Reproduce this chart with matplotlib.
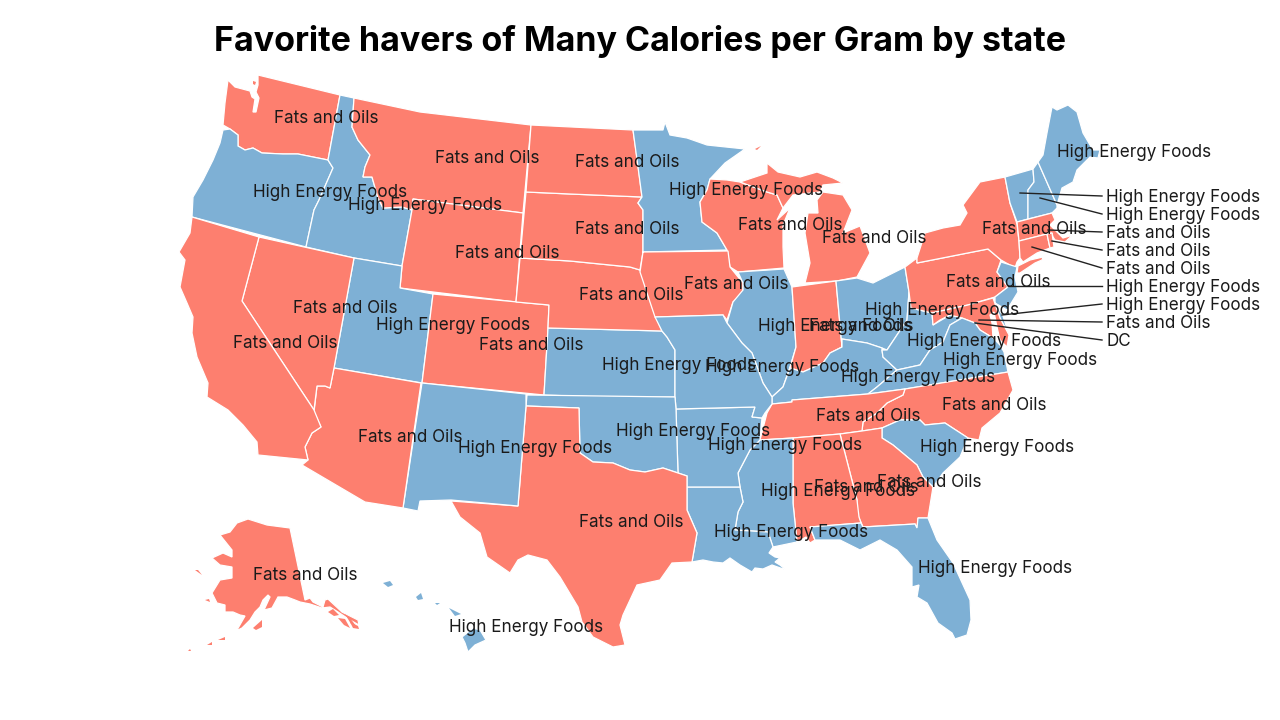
import matplotlib
matplotlib.use('Agg')
import matplotlib.pyplot as plt
from matplotlib.patches import Polygon

TITLE = 'Favorite havers of Many Calories per Gram by state'
FATS = 'Fats and Oils'
HIGH = 'High Energy Foods'
COLORS = {FATS: '#fd7f6f', HIGH: '#7eb0d5'}

# which category won in each state
fats_states = ['WA', 'MT', 'ND', 'SD', 'WY', 'NE', 'IA', 'WI', 'MI', 'NV', 'CO', 'CA', 'IN', 'TN',
               'NC', 'GA', 'AL', 'AZ', 'TX', 'AK', 'NY', 'PA', 'MA', 'RI', 'CT', 'MD']
high_states = ['OR', 'ID', 'MN', 'UT', 'KS', 'MO', 'IL', 'OH', 'WV', 'VA', 'KY', 'SC', 'MS', 'LA',
               'FL', 'OK', 'AR', 'NM', 'HI', 'ME', 'VT', 'NH', 'NJ', 'DE', 'DC']

# state outlines in pixels
outlines = {
    'WA': [[(258, 75), (340, 95), (328, 160), (298, 154), (283, 154), (262, 153), (253, 148), (245, 150), (238, 146),
            (238, 135), (230, 129), (223, 125), (225, 103), (228, 80), (235, 87), (250, 91), (252, 97), (255, 99),
            (253, 112), (256, 112), (259, 98), (256, 92), (258, 85)]],
    'OR': [[(223, 130), (230, 129), (238, 135), (238, 146), (245, 150), (253, 148), (262, 153), (283, 154), (298, 154),
            (328, 160), (333, 168), (319, 200), (314, 210), (306, 247), (192, 217), (193, 197), (203, 180), (213, 160),
            (220, 143)]],
    'ID': [[(340, 95), (354, 98), (352, 127), (358, 140), (370, 155), (365, 167), (363, 177), (372, 177), (378, 198),
            (383, 208), (402, 207), (412, 210), (402, 266), (354, 258), (306, 247), (314, 210), (319, 200), (333, 168),
            (328, 160)]],
    'MT': [[(354, 98), (420, 112), (531, 125), (523, 213), (413, 199), (412, 210), (402, 207), (383, 208), (378, 198),
            (372, 177), (363, 177), (365, 167), (370, 155), (358, 140), (352, 127)]],
    'WY': [[(413, 199), (523, 213), (516, 302), (400, 288), (402, 266), (412, 210)]],
    'UT': [[(354, 258), (402, 266), (400, 288), (433, 294), (422, 383), (334, 368)]],
    'CO': [[(433, 294), (549, 305), (548, 328), (544, 395), (422, 383)]],
    'KS': [[(548, 328), (662, 331), (667, 337), (675, 350), (675, 397), (600, 397), (544, 395)]],
    'NE': [[(520, 258), (570, 261), (620, 266), (630, 267), (640, 270), (645, 285), (653, 310), (662, 331), (548, 328),
            (549, 305), (516, 302)]],
    'SD': [[(526, 192), (570, 194), (642, 197), (638, 203), (643, 210), (643, 252), (640, 270), (630, 267), (620, 266),
            (570, 261), (520, 258)]],
    'ND': [[(531, 125), (633, 130), (638, 165), (642, 197), (570, 194), (526, 192)]],
    'MN': [[(633, 130), (663, 130), (665, 122), (670, 135), (687, 138), (707, 145), (745, 149), (725, 163), (710, 179),
            (707, 190), (700, 202), (702, 222), (717, 233), (727, 250), (643, 252), (643, 210), (638, 203), (642, 197)]],
    'WI': [[(710, 179), (727, 180), (740, 182), (767, 192), (777, 195), (783, 208), (777, 220), (790, 208), (783, 225),
            (783, 247), (784, 268), (738, 272), (730, 267), (727, 250), (717, 233), (702, 222), (700, 202), (707, 190)]],
    'MI': [[(740, 182), (767, 173), (767, 163), (778, 172), (800, 177), (817, 172), (833, 178), (843, 183), (823, 185),
            (820, 192), (793, 195), (783, 208), (777, 195), (767, 192)],
           [(823, 192), (843, 195), (852, 210), (843, 233), (860, 226), (870, 253), (857, 277), (837, 281), (805, 283),
            (810, 263), (805, 233), (808, 213), (818, 213), (817, 200)]],
    'IA': [[(642, 252), (728, 251), (730, 267), (743, 283), (743, 293), (733, 302), (727, 320), (723, 315), (655, 317),
            (640, 272), (643, 252)]],
    'IL': [[(738, 272), (784, 269), (792, 287), (796, 347), (790, 367), (783, 387), (772, 397), (763, 383), (752, 353),
            (742, 343), (727, 323), (733, 302), (743, 290), (743, 283)]],
    'IN': [[(792, 287), (836, 281), (842, 347), (830, 353), (823, 363), (803, 372), (790, 368), (796, 347)]],
    'OH': [[(836, 281), (857, 278), (873, 283), (905, 267), (909, 292), (907, 320), (887, 350), (882, 348), (867, 343),
            (842, 339), (842, 347)]],
    'KY': [[(842, 347), (842, 339), (867, 343), (882, 348), (882, 350), (883, 357), (897, 370), (877, 387), (868, 394),
            (792, 400), (792, 402), (772, 404), (772, 397), (783, 387), (790, 368), (803, 372), (823, 363), (830, 353)]],
    'WV': [[(909, 292), (911, 308), (932, 313), (933, 325), (950, 315), (962, 318), (950, 325), (943, 342), (930, 350),
            (920, 365), (897, 370), (883, 357), (882, 350), (887, 350), (907, 320)]],
    'PA': [[(905, 267), (917, 258), (917, 263), (988, 249), (1001, 260), (997, 272), (1008, 287), (995, 297), (968, 305),
            (932, 313), (911, 308), (909, 292)]],
    'NY': [[(917, 263), (917, 258), (925, 233), (943, 228), (960, 225), (967, 213), (963, 205), (980, 182), (1005, 177),
            (1010, 203), (1017, 224), (1019, 241), (1020, 258), (1017, 262), (1015, 268), (1001, 260), (988, 249)],
           [(1017, 273), (1018, 266), (1030, 260), (1043, 257), (1042, 260), (1035, 263), (1020, 273)]],
    'VT': [[(1005, 177), (1033, 169), (1034, 182), (1028, 190), (1028, 219), (1017, 222), (1010, 203)]],
    'NH': [[(1033, 169), (1038, 162), (1057, 205), (1057, 208), (1052, 213), (1028, 219), (1028, 190), (1034, 182)]],
    'ME': [[(1038, 162), (1043, 155), (1047, 133), (1052, 107), (1057, 110), (1068, 105), (1077, 112), (1083, 133),
            (1093, 150), (1100, 150), (1098, 158), (1090, 157), (1077, 170), (1073, 182), (1062, 188), (1057, 205)]],
    'MA': [[(1017, 222), (1052, 213), (1055, 220), (1050, 225), (1058, 233), (1063, 238), (1073, 235), (1075, 233),
            (1065, 242), (1055, 240), (1053, 237), (1052, 233), (1047, 234), (1019, 241)]],
    'CT': [[(1019, 241), (1047, 234), (1050, 248), (1037, 253), (1023, 262), (1020, 258)]],
    'RI': [[(1047, 234), (1052, 233), (1054, 247), (1050, 248)]],
    'NJ': [[(1001, 262), (1017, 267), (1015, 277), (1018, 292), (1007, 310), (995, 303), (995, 297), (1008, 287), (997, 272)]],
    'DE': [[(993, 298), (995, 303), (1003, 316), (1009, 335), (1000, 318)]],
    'MD': [[(932, 313), (968, 305), (993, 298), (1000, 318), (1009, 335), (1007, 347), (1000, 340), (997, 327), (994, 312),
            (990, 315), (992, 323), (993, 338), (980, 330), (975, 323), (962, 318), (950, 315), (940, 320), (933, 325)]],
    'VA': [[(962, 318), (975, 323), (980, 330), (993, 338), (1000, 345), (1004, 352), (1008, 372), (905, 389), (868, 394),
            (877, 387), (897, 370), (920, 365), (930, 350), (943, 342), (950, 325)]],
    'NC': [[(905, 389), (1008, 372), (1013, 390), (1000, 413), (982, 428), (979, 440), (968, 438), (945, 423), (925, 425),
            (920, 420), (900, 420), (882, 428), (862, 431), (863, 422), (877, 413), (887, 403), (903, 395)]],
    'TN': [[(772, 404), (792, 402), (792, 400), (868, 394), (905, 389), (903, 395), (887, 403), (877, 413), (863, 422), (862, 431),
            (840, 434), (793, 438), (760, 440), (767, 413)]],
    'SC': [[(882, 428), (900, 420), (920, 420), (925, 425), (945, 423), (968, 438), (960, 457), (943, 473), (933, 487),
            (923, 477), (917, 465), (893, 445), (882, 438)]],
    'GA': [[(862, 431), (882, 428), (882, 438), (893, 445), (917, 465), (923, 477), (933, 487), (928, 518), (918, 518),
            (917, 528), (915, 524), (863, 527), (857, 513), (857, 500), (840, 434)]],
    'AL': [[(793, 438), (840, 434), (857, 500), (859, 517), (861, 523), (810, 527), (815, 540), (810, 543), (806, 537),
            (797, 542), (793, 503)]],
    'FL': [[(810, 527), (861, 523), (863, 527), (915, 524), (917, 528), (918, 518), (928, 518), (937, 540), (953, 563),
            (970, 600), (971, 620), (967, 635), (955, 639), (952, 633), (938, 623), (927, 603), (917, 597), (919, 585),
            (912, 587), (912, 567), (897, 550), (880, 540), (860, 550), (840, 540), (815, 540)]],
    'MS': [[(760, 440), (793, 438), (793, 503), (797, 542), (773, 547), (768, 532), (735, 530), (738, 512), (743, 502),
            (740, 487), (738, 473), (750, 450)]],
    'LA': [[(687, 487), (740, 487), (743, 502), (738, 512), (735, 530), (768, 532), (773, 547), (769, 553), (775, 557),
            (780, 558), (775, 562), (780, 565), (786, 570), (772, 565), (763, 569), (755, 568), (752, 572), (740, 565),
            (730, 558), (723, 563), (713, 562), (703, 560), (692, 562), (697, 533), (687, 510)]],
    'AR': [[(676, 409), (755, 407), (752, 417), (762, 418), (760, 440), (750, 450), (738, 473), (740, 487), (687, 487),
            (687, 476), (678, 473)]],
    'MO': [[(655, 317), (723, 315), (727, 323), (742, 343), (752, 353), (763, 383), (772, 397), (772, 404), (765, 413),
            (762, 418), (752, 417), (755, 407), (676, 409), (675, 397), (675, 350), (667, 337), (662, 331)]],
    'OK': [[(527, 395), (675, 397), (676, 409), (678, 473), (663, 468), (645, 472), (630, 470), (613, 463), (593, 462),
            (580, 453), (579, 408), (526, 406)]],
    'TX': [[(526, 406), (579, 408), (580, 453), (593, 462), (613, 463), (630, 470), (645, 472), (663, 468), (678, 473),
            (687, 476), (687, 510), (697, 533), (692, 562), (672, 563), (660, 580), (637, 585), (623, 615), (620, 625),
            (625, 645), (613, 647), (593, 637), (582, 622), (578, 607), (560, 577), (547, 560), (528, 555), (518, 560),
            (510, 573), (487, 557), (480, 533), (460, 517), (451, 501), (518, 506)]],
    'NM': [[(422, 383), (526, 394), (526, 406), (518, 506), (451, 500), (420, 501), (418, 511), (403, 508)]],
    'AZ': [[(334, 368), (421, 383), (403, 508), (365, 502), (302, 465), (308, 460), (305, 447), (312, 433), (321, 427),
            (314, 412), (317, 386), (325, 386), (330, 388)]],
    'NV': [[(259, 237), (354, 258), (334, 368), (330, 388), (325, 386), (317, 386), (314, 410), (242, 301)]],
    'CA': [[(192, 217), (259, 237), (242, 301), (314, 410), (321, 427), (312, 433), (305, 447), (308, 460), (258, 455),
            (257, 442), (243, 425), (228, 410), (207, 397), (208, 383), (197, 357), (192, 333), (193, 317), (190, 310),
            (187, 303), (180, 287), (185, 260), (179, 252), (190, 233)]],
    'AK': [[(248, 519), (267, 525), (290, 528), (305, 600), (310, 598), (313, 602), (323, 607), (325, 600), (328, 599),
            (342, 612), (358, 620), (359, 625), (350, 620), (338, 612), (330, 607), (322, 608), (310, 604), (300, 602),
            (295, 600), (287, 597), (278, 597), (272, 608), (264, 610), (270, 597), (268, 595), (263, 600), (260, 607),
            (255, 612), (250, 620), (242, 628), (228, 635), (237, 630), (245, 616), (240, 615), (233, 612), (225, 612),
            (225, 605), (217, 603), (212, 593), (220, 580), (232, 578), (232, 567), (220, 565), (212, 558), (223, 553),
            (232, 557), (232, 550), (220, 535), (230, 532), (237, 523)]],
    'HI': [[(473, 628), (480, 630), (486, 640), (475, 645), (468, 652), (465, 643), (462, 637)]],
}

# tiny bits that get no white edge
islands = {
    'WA': [[(253, 81), (256, 82), (255, 85), (253, 84)]],
    'MI': [[(755, 149), (761, 146), (757, 150)]],
    'DC': [[(974, 322), (977, 322), (976, 325)]],
    'AK': [[(253, 628), (262, 620), (262, 627), (256, 630)], [(207, 645), (212, 642), (212, 645)],
           [(218, 640), (225, 637), (225, 640)], [(195, 570), (198, 570), (202, 575)],
           [(205, 600), (209, 599), (210, 602)], [(188, 651), (190, 649), (191, 651)],
           [(328, 612), (333, 609), (339, 615), (334, 616)], [(338, 618), (345, 619), (350, 628), (344, 625)],
           [(345, 614), (350, 618), (356, 626), (351, 624)], [(350, 622), (358, 626), (359, 629), (353, 628)]],
    'HI': [[(383, 583), (390, 581), (393, 585), (388, 587)], [(416, 597), (421, 593), (423, 599), (418, 600)],
           [(435, 603), (440, 603), (437, 605)], [(449, 608), (455, 611), (461, 614), (455, 616)]],
}

# label text by state and where it sits
label_points = {
    'WA': (326, 117), 'OR': (330, 191), 'ID': (425, 204), 'MT': (487, 157), 'ND': (627, 161), 'MN': (746, 189),
    'SD': (627, 228), 'WY': (507, 252), 'NE': (631, 294), 'IA': (736, 283), 'WI': (790, 224), 'MI': (874, 237),
    'NV': (345, 307), 'UT': (453, 324), 'CO': (531, 344), 'CA': (285, 342), 'KS': (679, 364), 'MO': (782, 366),
    'IL': (835, 325), 'IN': (861, 325), 'OH': (942, 309), 'WV': (984, 340), 'VA': (1020, 359), 'KY': (918, 376),
    'TN': (868, 415), 'NC': (994, 404), 'SC': (997, 446), 'GA': (929, 481), 'AL': (866, 486), 'MS': (838, 490),
    'LA': (791, 531), 'FL': (995, 567), 'OK': (693, 430), 'AR': (785, 444), 'NM': (535, 447), 'AZ': (410, 436),
    'TX': (631, 521), 'AK': (305, 574), 'HI': (526, 626), 'ME': (1134, 151), 'NY': (1034, 228), 'PA': (998, 281),
}

# small states labelled outside the map, with a leader line
callout_states = ['VT', 'NH', 'MA', 'RI', 'CT', 'NJ', 'DE', 'MD', 'DC']
callout_anchors = [(1020, 193), (1040, 198), (1048, 230), (1052, 241), (1032, 247), (1008, 286), (1002, 315), (979, 320), (975, 323)]
callout_rows = [196, 214, 232, 250, 268, 286, 304, 322, 340]

winner = {s: FATS for s in fats_states}
winner.update({s: HIGH for s in high_states})

plt.rcParams['font.family'] = ['Inter', 'DejaVu Sans']
fig = plt.figure(figsize=(12.8, 7.2), dpi=100)
ax = fig.add_axes([0, 0, 1, 1])
ax.set_xlim(0, 1280)
ax.set_ylim(720, 0)
ax.axis('off')

for state, parts in outlines.items():
    for part in parts:
        ax.add_patch(Polygon(part, closed=True, facecolor=COLORS[winner[state]], edgecolor='white', linewidth=0.9))

for state, parts in islands.items():
    for part in parts:
        ax.add_patch(Polygon(part, closed=True, facecolor=COLORS[winner[state]], edgecolor='none'))

for state, (x, y) in label_points.items():
    ax.text(x, y + 1.5, winner[state], ha='center', va='center', fontsize=12.3, color='#1a1a1a')

for state, anchor, row in zip(callout_states, callout_anchors, callout_rows):
    ax.plot([anchor[0], 1102], [anchor[1], row], color='#222222', linewidth=1)
    text = 'DC' if state == 'DC' else winner[state]
    ax.text(1106, row + 1.5, text, ha='left', va='center', fontsize=12.3, color='#1a1a1a')

ax.text(640, 42, TITLE, ha='center', va='center', fontsize=24.5, fontweight='bold', color='black')

fig.savefig('out.png', dpi=100)
